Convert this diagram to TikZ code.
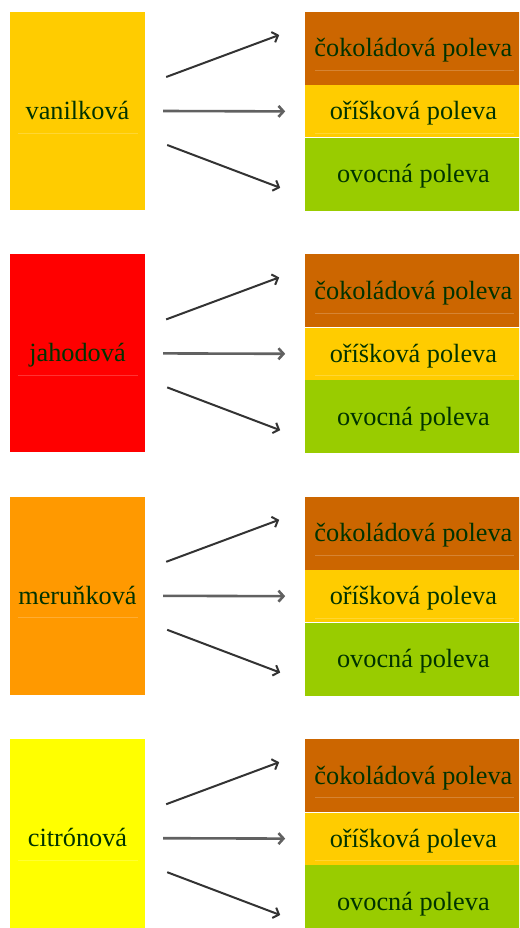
\documentclass[tikz,border=0pt]{standalone}
\usepackage{fontspec}
\setmainfont{Liberation Serif}
\usepackage{tikz}
\usetikzlibrary{arrows.meta,positioning,calc}
\definecolor{vanilla}{HTML}{FFCC00}
\definecolor{strawberry}{HTML}{FF0000}
\definecolor{apricot}{HTML}{FF9900}
\definecolor{lemon}{HTML}{FFFF00}
\definecolor{choco}{HTML}{CC6600}
\definecolor{nut}{HTML}{FFCC00}
\definecolor{fruit}{HTML}{99CC00}
\definecolor{label}{HTML}{003300}
\tikzset{
  sepline/.style = {draw=white, draw opacity=0.2, line width=0.8pt},
  lined/.style 2 args = {path picture={
      \draw[sepline] ([xshift=#1,yshift=-22pt]path picture bounding box.west)
        -- ([xshift=-#2,yshift=-22pt]path picture bounding box.east);}},
  basic/.style   = {rectangle, inner sep=0pt, text height=22pt, text depth=5pt,
                    text=label, font=\fontsize{26.3}{30}\selectfont},
  flavour/.style = {basic, minimum width=135pt, minimum height=198pt,
                    lined={8pt}{7pt}},
  glaze/.style   = {basic, minimum width=216pt},
  cokolada/.style = {glaze, fill=choco, minimum height=73pt, lined={10pt}{7pt}},
  orisky/.style   = {glaze, fill=nut, minimum height=52pt, lined={10pt}{7pt}},
  ovoce/.style    = {glaze, fill=fruit, minimum height=73pt},
  arr/.style    = {->, line width=2pt, draw=black!80},
  midarr/.style = {arr, line width=2.6pt, draw=black!62}
}
\begin{document}
\begin{tikzpicture}[x=1pt, y=1pt, node distance=0pt,
  >={Straight Barb[length=5pt,width=11pt]}]

\clip (0,0) rectangle (519,-928);

% flavours on the left
\node[flavour, fill=vanilla] (van) at (77.5,-111) {vanilková};
\node[flavour, fill=strawberry, below=44pt of van] (jah) {jahodová};
\node[flavour, fill=apricot, below=44pt of jah] (mer) {meruňková};
\node[flavour, fill=lemon, below=44pt of mer] (cit) {citrónová};

% glazes on the right, one column per flavour
\node[cokolada, right=160pt of van.north east, anchor=north west] (van-cok) {čokoládová poleva};
\node[orisky, below=of van-cok] (van-ori) {oříšková poleva};
\node[ovoce, below=of van-ori] (van-ovo) {ovocná poleva};

\node[cokolada, right=160pt of jah.north east, anchor=north west] (jah-cok) {čokoládová poleva};
\node[orisky, below=of jah-cok] (jah-ori) {oříšková poleva};
\node[ovoce, below=of jah-ori] (jah-ovo) {ovocná poleva};

\node[cokolada, right=160pt of mer.north east, anchor=north west] (mer-cok) {čokoládová poleva};
\node[orisky, below=of mer-cok] (mer-ori) {oříšková poleva};
\node[ovoce, below=of mer-ori] (mer-ovo) {ovocná poleva};

\node[cokolada, right=160pt of cit.north east, anchor=north west] (cit-cok) {čokoládová poleva};
\node[orisky, below=of cit-cok] (cit-ori) {oříšková poleva};
\node[ovoce, below=of cit-ori] (cit-ovo) {ovocná poleva};

% arrows from each flavour to its glazes
\draw[arr] ($(van.east)+(21,34)$) -- ($(van-cok.west)+(-26,13.5)$);
\draw[midarr] ($(van.east)+(18,0)$) -- ($(van-ori.west)+(-20,0)$);
\draw[arr] ($(van.east)+(22,-34)$) -- ($(van-ovo.west)+(-25,-13.5)$);

\draw[arr] ($(jah.east)+(21,34)$) -- ($(jah-cok.west)+(-26,13.5)$);
\draw[midarr] ($(jah.east)+(18,0)$) -- ($(jah-ori.west)+(-20,0)$);
\draw[arr] ($(jah.east)+(22,-34)$) -- ($(jah-ovo.west)+(-25,-13.5)$);

\draw[arr] ($(mer.east)+(21,34)$) -- ($(mer-cok.west)+(-26,13.5)$);
\draw[midarr] ($(mer.east)+(18,0)$) -- ($(mer-ori.west)+(-20,0)$);
\draw[arr] ($(mer.east)+(22,-34)$) -- ($(mer-ovo.west)+(-25,-13.5)$);

\draw[arr] ($(cit.east)+(21,34)$) -- ($(cit-cok.west)+(-26,13.5)$);
\draw[midarr] ($(cit.east)+(18,0)$) -- ($(cit-ori.west)+(-20,0)$);
\draw[arr] ($(cit.east)+(22,-34)$) -- ($(cit-ovo.west)+(-25,-13.5)$);

\end{tikzpicture}
\end{document}
